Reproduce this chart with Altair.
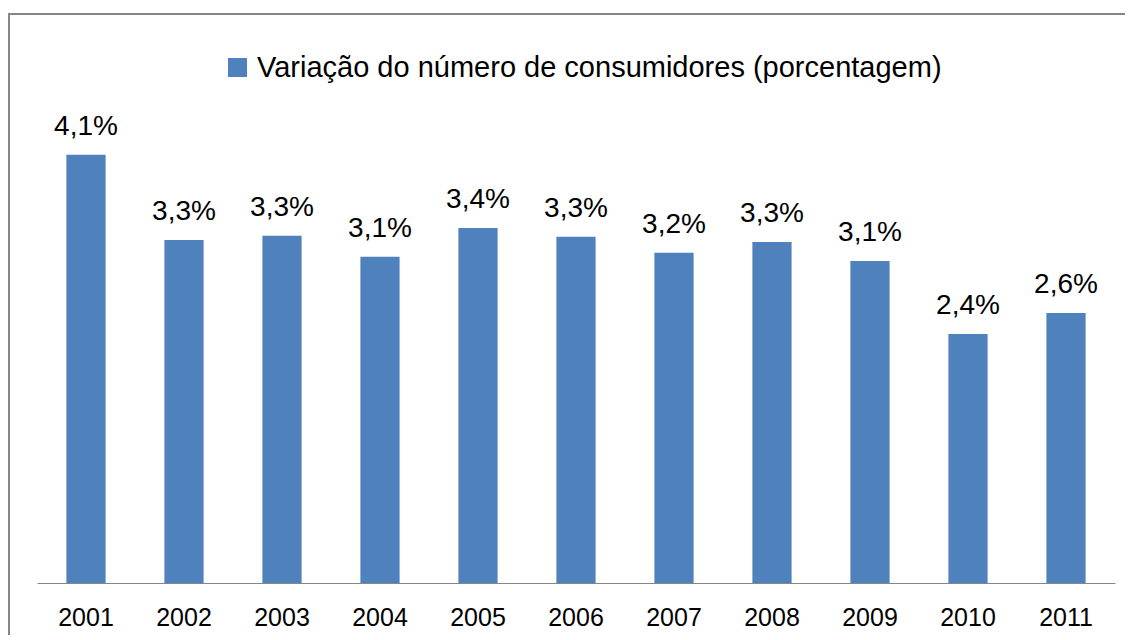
import altair as alt
import pandas as pd

anos = ["2001", "2002", "2003", "2004", "2005", "2006", "2007", "2008", "2009", "2010", "2011"]
variacao = [4.10, 3.285, 3.324, 3.123, 3.40, 3.314, 3.161, 3.266, 3.084, 2.385, 2.586]
serie = "Variação do número de consumidores (porcentagem)"

df = pd.DataFrame({
    "ano": anos,
    "valor": variacao,
    "serie": [serie] * len(anos),
})
df["rotulo"] = [f"{v:.1f}".replace(".", ",") + "%" for v in variacao]

FONT = "Liberation Sans"
W, H = 1078, 470

x = alt.X("ano:N", sort=anos, title=None,
          scale=alt.Scale(paddingInner=0.6, paddingOuter=0.3),
          axis=alt.Axis(labelAngle=0, labelFontSize=25, labelFont=FONT, labelColor="#000000",
                        ticks=False, tickSize=0, labelPadding=22, domainColor="#868686",
                        domainWidth=1, grid=False))
y = alt.Y("valor:Q", scale=alt.Scale(domain=[0, 4.5]), axis=None)

base = alt.Chart(df)

bars = base.mark_bar(color="#4F81BD").encode(
    x=x, y=y,
    color=alt.Color("serie:N", scale=alt.Scale(domain=[serie], range=["#4F81BD"]),
                    legend=alt.Legend(title=None, orient="none", legendX=186, legendY=-60,
                                      symbolType="square", symbolSize=361, symbolStrokeWidth=0,
                                      labelFontSize=29, labelFont=FONT, labelColor="#000000",
                                      labelLimit=0, labelOffset=5)),
)

labels = base.mark_text(baseline="alphabetic", dy=-20, fontSize=28, font=FONT, color="#000000").encode(
    x=x, y=y, text="rotulo:N"
)

frame_df = pd.DataFrame({"k": [0]})
left_border = alt.Chart(frame_df).mark_rule(color="#868686", strokeWidth=2).encode(
    x=alt.value(-28), y=alt.value(-99), y2=alt.value(560)
)
top_border = alt.Chart(frame_df).mark_rule(color="#868686", strokeWidth=2).encode(
    x=alt.value(-29), x2=alt.value(1200), y=alt.value(-99)
)

chart = alt.layer(bars, labels, left_border, top_border).properties(
    width=W, height=H,
    padding={"left": 29, "top": 105, "right": 10, "bottom": 52},
    autosize=alt.AutoSizeParams(type="none"),
    background="white",
).configure_view(strokeWidth=0)

chart.save("out.html", embed_options={"renderer": "svg", "actions": False})
